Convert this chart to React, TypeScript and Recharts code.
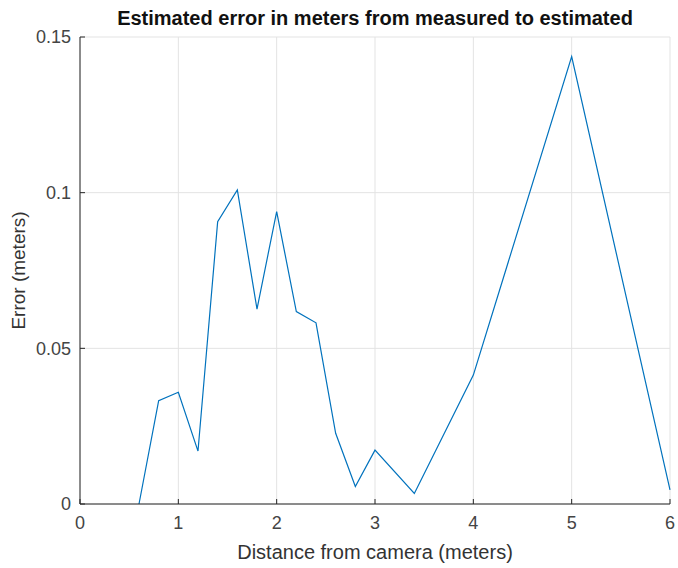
import { LineChart, Line, XAxis, YAxis, CartesianGrid } from 'recharts';

// distance from camera (m) and estimated error (m)
const distances = [0.6, 0.8, 1.0, 1.2, 1.4, 1.6, 1.8, 2.0, 2.2, 2.4, 2.6, 2.8, 3.0, 3.4, 4.0, 5.0, 6.0];
const errors = [0.0, 0.0332, 0.0359, 0.017, 0.0907, 0.1009, 0.0626, 0.0939, 0.0618, 0.0582, 0.0227, 0.0056, 0.0173, 0.0034, 0.0414, 0.1437, 0.0045];

const xTicks = [0, 1, 2, 3, 4, 5, 6];
const yTicks = [0, 0.05, 0.1, 0.15];

const data = distances.map((d, i) => ({ d, err: errors[i] }));

const FONT = '"Liberation Sans", Arial, Helvetica, sans-serif';
const AXIS_COLOR = '#262626';
const TICK_STYLE = { fill: '#444', fontSize: 18, fontFamily: FONT };

export default function App() {
    return (
        <div style={{ position: 'absolute', left: 0, top: 0, width: 678, height: 568, background: '#fff' }}>
            <LineChart width={678} height={568} data={data} margin={{ top: 37, right: 8, left: 30, bottom: 34 }}>
                <CartesianGrid stroke="#e3e3e3" vertical horizontal />
                <XAxis
                    dataKey="d"
                    type="number"
                    domain={[0, 6]}
                    ticks={xTicks}
                    height={30}
                    stroke={AXIS_COLOR}
                    tickSize={-5}
                    tickMargin={17}
                    tick={TICK_STYLE}
                    label={{ value: 'Distance from camera (meters)', position: 'insideBottom', offset: -25, style: { fill: '#333', fontSize: 20, fontFamily: FONT } }}
                />
                <XAxis xAxisId="top" orientation="top" type="number" domain={[0, 6]} ticks={xTicks} height={0} stroke={AXIS_COLOR} tickSize={-5} tick={false} />
                <YAxis
                    type="number"
                    domain={[0, 0.15]}
                    ticks={yTicks}
                    width={50}
                    stroke={AXIS_COLOR}
                    tickSize={-5}
                    tickMargin={14}
                    tick={TICK_STYLE}
                    label={{ value: 'Error (meters)', angle: -90, position: 'insideLeft', offset: -12, style: { fill: '#333', fontSize: 19, fontFamily: FONT, textAnchor: 'middle' } }}
                />
                <YAxis yAxisId="right" orientation="right" type="number" domain={[0, 0.15]} ticks={yTicks} width={0} stroke={AXIS_COLOR} tickSize={-5} tick={false} />
                <Line dataKey="err" stroke="#0072BD" strokeWidth={1.2} dot={false} isAnimationActive={false} />
                <text x={375} y={20} textAnchor="middle" dominantBaseline="middle" style={{ fontSize: 20, fontWeight: 700, fontFamily: FONT, fill: '#111' }}>
                    Estimated error in meters from measured to estimated
                </text>
            </LineChart>
        </div>
    );
}
